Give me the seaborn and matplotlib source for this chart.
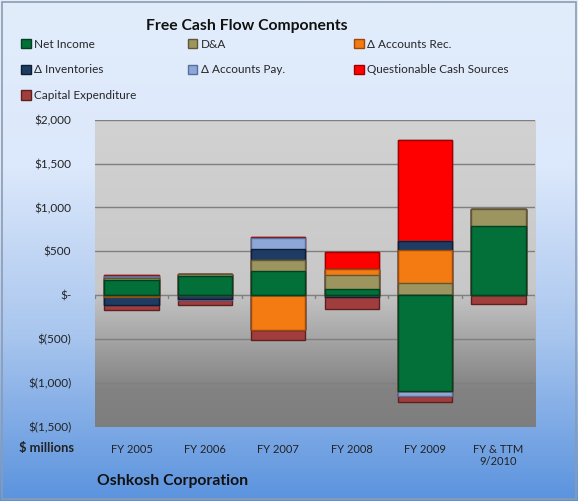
import numpy as np
import pandas as pd
import seaborn as sns
import matplotlib.pyplot as plt
from matplotlib.colors import LinearSegmentedColormap
from matplotlib.patches import Patch
from matplotlib.ticker import FuncFormatter, MultipleLocator

# values in $ millions
years = ["FY 2005", "FY 2006", "FY 2007", "FY 2008", "FY 2009", "FY & TTM\n9/2010"]
series = ["Net Income", "D&A", "\u0394 Accounts Rec.", "\u0394 Inventories",
          "\u0394 Accounts Pay.", "Questionable Cash Sources", "Capital Expenditure"]
net_income = [170, 215, 276, 69, -1097, 786]
dna = [30, 30, 123, 161, 134, 192]
accounts_rec = [-15, 0, -391, 65, 376, 0]
inventories = [-100, -40, 123, -23, 111, 0]
accounts_pay = [20, -10, 130, 0, -54, 0]
questionable = [15, 0, 12, 200, 1151, 0]
capex = [-58, -60, -115, -134, -69, -100]

colors = ["#03703A", "#9C955F", "#F47A12", "#1D3B63", "#8DA8D8", "#FF0000", "#A23D3D"]
edges = ["#02401F", "#5E5835", "#9C4A07", "#0D1D33", "#55709E", "#A00000", "#5E1F1F"]

df = pd.DataFrame(dict(zip(series, [net_income, dna, accounts_rec, inventories,
                                    accounts_pay, questionable, capex])), index=years)
pos_cum = df.clip(lower=0).cumsum(axis=1)
neg_cum = df.clip(upper=0).cumsum(axis=1)

sns.set_style("white")
plt.rcParams["font.family"] = ["Lato", "DejaVu Sans"]

fig = plt.figure(figsize=(5.78, 5.01), dpi=100)

# figure background gradient
bg = fig.add_axes([0, 0, 1, 1], zorder=-10)
bg_cmap = LinearSegmentedColormap.from_list("bg", ["#E2EDFC", "#DCE8FB", "#A9C6EE", "#5B93DE"])
bg.imshow(np.linspace(0, 1, 256).reshape(-1, 1), aspect="auto", cmap=bg_cmap,
          extent=[0, 1, 0, 1], origin="upper")
bg.set_xlim(0, 1)
bg.set_ylim(0, 1)
bg.axis("off")
bg.add_patch(plt.Rectangle((0.003, 0.004), 0.994, 0.992, fill=False,
                           edgecolor="#8C9BB0", linewidth=1.2))

ax = fig.add_axes([0.164, 0.148, 0.762, 0.613])
ax.set_facecolor("none")

# plot area gradient
pa_cmap = LinearSegmentedColormap.from_list(
    "pa", [(0, "#D2D2D2"), (0.55, "#C8C8C8"), (0.88, "#828282"), (1, "#7E7E7E")])
ax.imshow(np.linspace(0, 1, 256).reshape(-1, 1), aspect="auto", cmap=pa_cmap,
          extent=[-0.5, 5.5, -1500, 2000], origin="upper", zorder=0)

# stacked bars: paint outermost cumulative first so inner segments sit on top
for i in reversed(range(len(series))):
    s = series[i]
    sns.barplot(x=years, y=pos_cum[s].values, color=colors[i], edgecolor=edges[i],
                linewidth=1, width=0.74, ax=ax, zorder=3, saturation=1)
    sns.barplot(x=years, y=neg_cum[s].values, color=colors[i], edgecolor=edges[i],
                linewidth=1, width=0.74, ax=ax, zorder=3, saturation=1)

ax.set_xlim(-0.5, 5.5)
ax.set_ylim(-1500, 2000)
ax.yaxis.set_major_locator(MultipleLocator(500))
for y in range(-1500, 2001, 500):
    ax.axhline(y, color="#7F7F7F", linewidth=1, zorder=1)
# small ticks on the zero line between categories
for xb in np.arange(-0.5, 5.6, 1):
    ax.plot([xb, xb], [0, -35], color="#7F7F7F", linewidth=1, zorder=2)


def money(v, pos):
    if v == 0:
        return "$-"
    if v < 0:
        return "$({:,.0f})".format(-v)
    return "${:,.0f}".format(v)


ax.yaxis.set_major_formatter(FuncFormatter(money))
ax.tick_params(axis="y", length=0, pad=17, labelsize=8.5, labelcolor="#222222")
ax.tick_params(axis="x", length=0, pad=12, labelsize=8, labelcolor="#222222")
ax.set_xlabel("")
ax.set_ylabel("")
for sp in ax.spines.values():
    sp.set_visible(False)

fig.text(0.427, 0.949, "Free Cash Flow Components", ha="center", va="center",
         fontsize=11.3, fontweight="bold", color="#111111")
fig.text(0.081, 0.105, "$ millions", ha="center", va="center",
         fontsize=9.3, fontweight="bold", color="#222222")
fig.text(0.168, 0.04, "Oshkosh Corporation", ha="left", va="center",
         fontsize=11.3, fontweight="bold", color="#111111")

# legend, three columns as in the original
cols = [[0, 3, 6], [1, 4], [2, 5]]
xs = [0.037, 0.325, 0.613]
for xc, idx in zip(xs, cols):
    handles = [Patch(facecolor=colors[i], edgecolor=edges[i], label=series[i]) for i in idx]
    fig.legend(handles=handles, loc="upper left", bbox_to_anchor=(xc, 0.923),
               frameon=False, fontsize=8.5, handlelength=0.8, handleheight=0.8,
               handletextpad=0.3, labelspacing=1.25, borderpad=0, borderaxespad=0)

fig.savefig("out.png", dpi=100)
